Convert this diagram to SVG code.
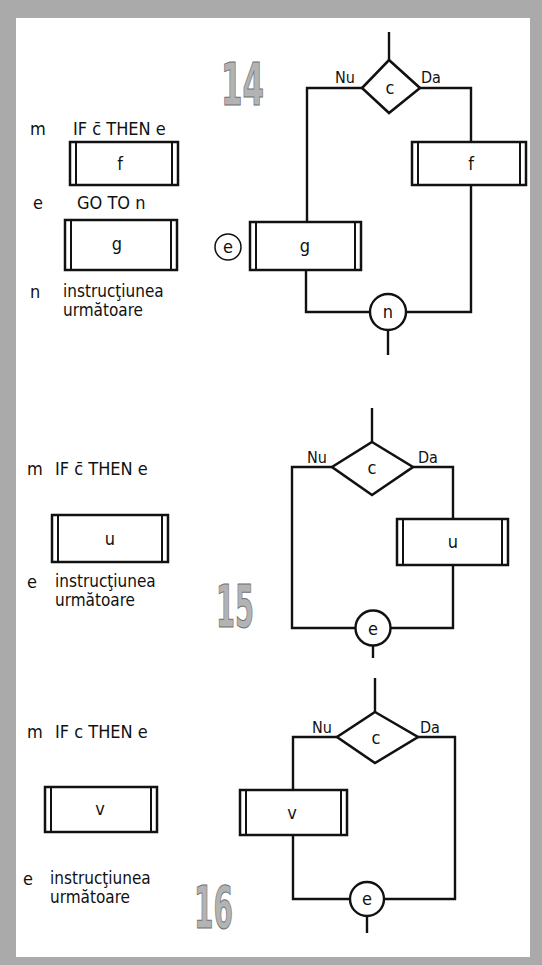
<svg xmlns="http://www.w3.org/2000/svg" width="542" height="965" viewBox="0 0 542 965">
<defs>
<style>
.t{font-family:"Liberation Sans Narrow","DejaVu Sans Condensed","Liberation Sans",sans-serif;font-size:18px;fill:#111}
.s{font-size:16px}
.sm{font-size:17px}
.c{text-anchor:middle}
.box{fill:#fff;stroke:#111;stroke-width:2.5}
.in{stroke:#111;stroke-width:2}
.ln{fill:none;stroke:#111;stroke-width:2.4}
.dm{fill:#fff;stroke:#111;stroke-width:2.6}
.cir{fill:#fff;stroke:#111;stroke-width:2.4}
.big{font-family:"DejaVu Sans Condensed","Liberation Sans Narrow",sans-serif;font-weight:bold;font-size:58px;fill:#b3b3b3;stroke:#707070;stroke-width:1}
</style>
</defs>
<rect x="0" y="0" width="542" height="965" fill="#aaaaaa"/>
<rect x="16" y="18" width="514" height="939" fill="#fff"/>

<g id="connectors">
<path class="ln" d="M389,32 V60"/>
<path class="ln" d="M362,88 H307 V222"/>
<path class="ln" d="M420,88 H471 V142"/>
<path class="ln" d="M306,270 V312 H370"/>
<path class="ln" d="M471,185 V312 H406"/>
<path class="ln" d="M388,330 V355"/>

<path class="ln" d="M372,408 V442"/>
<path class="ln" d="M332,467 H292 V628 H356"/>
<path class="ln" d="M413,467 H453 V519"/>
<path class="ln" d="M453,565 V628 H390"/>
<path class="ln" d="M373,646 V658"/>

<path class="ln" d="M375,678 V712"/>
<path class="ln" d="M337,737 H293 V790"/>
<path class="ln" d="M293,835 V899 H350"/>
<path class="ln" d="M418,737 H455 V899 H384"/>
<path class="ln" d="M367,916 V933"/>
</g>

<!-- Figure 14 left listing -->
<g id="code14">
<text class="t" x="30" y="135">m</text>
<text class="t" x="73" y="135">IF c̄ THEN e</text>
<text class="t" x="33" y="209">e</text>
<text class="t" x="77" y="209">GO TO  n</text>
<text class="t" x="30" y="298">n</text>
<text class="t sm" x="63" y="297">instrucţiunea</text>
<text class="t sm" x="63" y="316">următoare</text>
</g>
<g id="box14f-left">
<rect class="box" x="70" y="142" width="108" height="43"/>
<line class="in" x1="76" y1="142" x2="76" y2="185"/>
<line class="in" x1="172" y1="142" x2="172" y2="185"/>
<text class="t c" x="120" y="170">f</text>
</g>
<g id="box14g-left">
<rect class="box" x="65" y="220" width="112" height="50"/>
<line class="in" x1="71" y1="220" x2="71" y2="270"/>
<line class="in" x1="171" y1="220" x2="171" y2="270"/>
<text class="t c" x="117" y="250">g</text>
</g>
<text class="big" x="221" y="105" textLength="43" lengthAdjust="spacingAndGlyphs">14</text>

<!-- Figure 14 flowchart -->
<g id="dec14">
<polygon class="dm" points="389,60 420,88 389,113 362,88"/>
<text class="t c" x="390" y="94">c</text>
<text class="t s" x="335" y="83">Nu</text>
<text class="t s" x="421" y="83">Da</text>
</g>
<g id="box14f">
<rect class="box" x="412" y="142" width="114" height="43"/>
<line class="in" x1="418" y1="142" x2="418" y2="185"/>
<line class="in" x1="520" y1="142" x2="520" y2="185"/>
<text class="t c" x="471" y="170">f</text>
</g>
<g id="box14g">
<rect class="box" x="250" y="222" width="111" height="48"/>
<line class="in" x1="256" y1="222" x2="256" y2="270"/>
<line class="in" x1="355" y1="222" x2="355" y2="270"/>
<text class="t c" x="305" y="252">g</text>
</g>
<g id="lbl14e">
<circle fill="#fff" stroke="#111" stroke-width="1.5" cx="228" cy="247" r="13"/>
<text class="t c" x="228" y="253">e</text>
</g>
<g id="join14n">
<circle class="cir" cx="388" cy="312" r="18"/>
<text class="t c" x="388" y="318">n</text>
</g>

<!-- Figure 15 left listing -->
<g id="code15">
<text class="t" x="27" y="475">m</text>
<text class="t" x="55" y="475">IF c̄  THEN  e</text>
<text class="t" x="27" y="588">e</text>
<text class="t sm" x="55" y="587">instrucţiunea</text>
<text class="t sm" x="55" y="606">următoare</text>
</g>
<g id="box15u-left">
<rect class="box" x="52" y="515" width="116" height="47"/>
<line class="in" x1="58" y1="515" x2="58" y2="562"/>
<line class="in" x1="162" y1="515" x2="162" y2="562"/>
<text class="t c" x="110" y="545">u</text>
</g>
<text class="big" x="216" y="627" textLength="38" lengthAdjust="spacingAndGlyphs">15</text>

<!-- Figure 15 flowchart -->
<g id="dec15">
<polygon class="dm" points="372,442 413,467 372,495 332,467"/>
<text class="t c" x="372" y="474">c</text>
<text class="t s" x="307" y="463">Nu</text>
<text class="t s" x="418" y="463">Da</text>
</g>
<g id="box15u">
<rect class="box" x="397" y="519" width="111" height="46"/>
<line class="in" x1="403" y1="519" x2="403" y2="565"/>
<line class="in" x1="502" y1="519" x2="502" y2="565"/>
<text class="t c" x="453" y="548">u</text>
</g>
<g id="join15e">
<circle class="cir" cx="373" cy="628" r="17.5"/>
<text class="t c" x="373" y="635">e</text>
</g>

<!-- Figure 16 left listing -->
<g id="code16">
<text class="t" x="27" y="738">m</text>
<text class="t" x="55" y="738">IF c THEN  e</text>
<text class="t" x="23" y="885">e</text>
<text class="t sm" x="50" y="884">instrucţiunea</text>
<text class="t sm" x="50" y="903">următoare</text>
</g>
<g id="box16v-left">
<rect class="box" x="45" y="787" width="112" height="45"/>
<line class="in" x1="51" y1="787" x2="51" y2="832"/>
<line class="in" x1="151" y1="787" x2="151" y2="832"/>
<text class="t c" x="100" y="815">v</text>
</g>
<text class="big" x="194" y="928" textLength="39" lengthAdjust="spacingAndGlyphs">16</text>

<!-- Figure 16 flowchart -->
<g id="dec16">
<polygon class="dm" points="375,712 418,737 375,763 337,737"/>
<text class="t c" x="376" y="744">c</text>
<text class="t s" x="312" y="733">Nu</text>
<text class="t s" x="420" y="733">Da</text>
</g>
<g id="box16v">
<rect class="box" x="240" y="790" width="107" height="45"/>
<line class="in" x1="246" y1="790" x2="246" y2="835"/>
<line class="in" x1="341" y1="790" x2="341" y2="835"/>
<text class="t c" x="292" y="819">v</text>
</g>
<g id="join16e">
<circle class="cir" cx="367" cy="899" r="17"/>
<text class="t c" x="367" y="905">e</text>
</g>
</svg>
